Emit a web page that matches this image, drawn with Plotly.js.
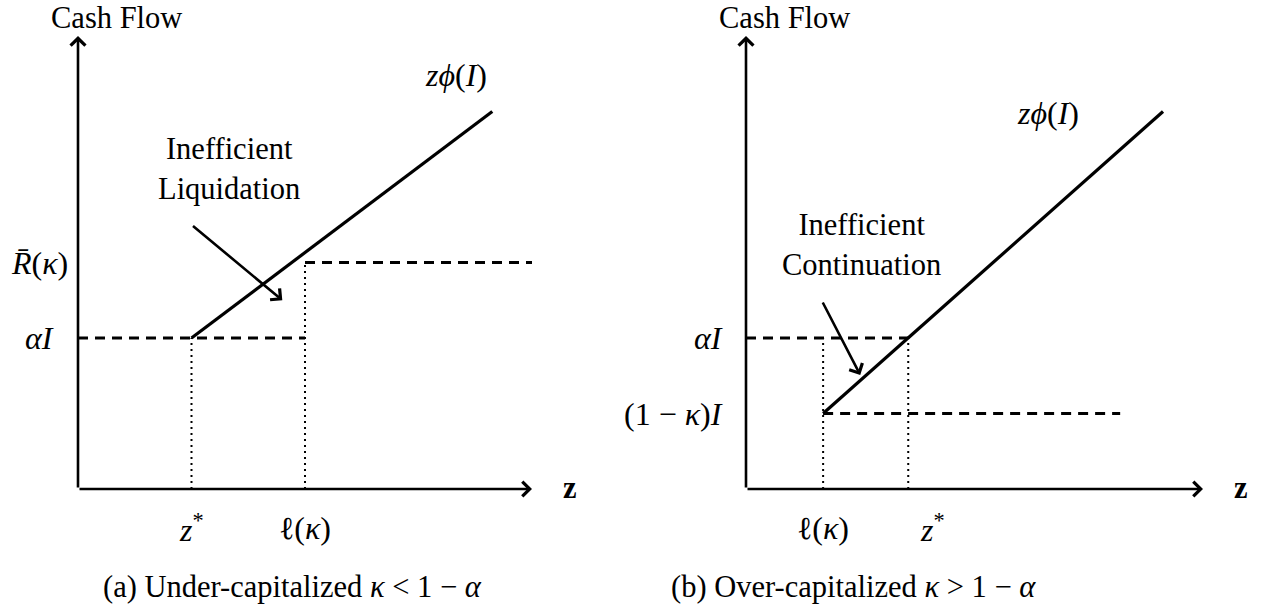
<!DOCTYPE html>
<html>
<head>
<meta charset="utf-8">
<script src="https://cdn.plot.ly/plotly-3.0.1.min.js"></script>
<style>
  html, body { margin: 0; padding: 0; background: #ffffff; }
  #chart { width: 1262px; height: 609px; }
</style>
</head>
<body>
<div id="chart"></div>
<script>
// ---- Panel (a): under-capitalized bank ----
const aPayoffZ = [2, 7.3];          // zφ(I) segment, starting at z*
const aPayoffCF = [2, 5];
const aThresholds = [2, 4];         // z*, ℓ(κ)
const aThresholdLabels = ['<i>z</i><sup>*</sup>', 'ℓ(<i>κ</i>)'];
const aLevels = [2, 3];             // αI, R̄(κ)
const aLevelLabels = ['<i>αI</i>', '<i>R̄</i>(<i>κ</i>)'];
const aLevelEnds = [4, 8];          // where each dashed level stops / ends

// ---- Panel (b): over-capitalized bank ----
const bPayoffZ = [1.35, 7.3];       // zφ(I) segment, starting at ℓ(κ)
const bPayoffCF = [1, 5];
const bThresholds = [1.35, 2.84];   // ℓ(κ), z*
const bThresholdLabels = ['ℓ(<i>κ</i>)', '<i>z</i><sup>*</sup>'];
const bLevels = [2, 1];             // αI, (1−κ)I
const bLevelLabels = ['<i>αI</i>', '(1 − <i>κ</i>)<i>I</i>'];
const bLevelEnds = [2.84, 6.55];

const captions = ['(a) Under-capitalized <i>κ</i> &lt; 1 − <i>α</i>',
                  '(b) Over-capitalized <i>κ</i> &gt; 1 − <i>α</i>'];
const notes = ['Inefficient<br>Liquidation', 'Inefficient<br>Continuation'];

const X_MAX = 8, Y_MAX = 6;
const FONT = 'Liberation Serif, Times New Roman, serif';
const solid = {color: '#000', width: 3.2};
const dashed = {color: '#000', width: 2.8, dash: '10px,7px'};
const dotted = {color: '#000', width: 2, dash: '2px,4px'};

function seg(xa, ya, x, y, line) {
  return {x: x, y: y, xaxis: xa, yaxis: ya, mode: 'lines', line: line,
          hoverinfo: 'skip', cliponaxis: false, showlegend: false};
}

const traces = [
  // panel (a)
  seg('x', 'y', aPayoffZ, aPayoffCF, solid),
  seg('x', 'y', [0, aLevelEnds[0]], [aLevels[0], aLevels[0]], dashed),
  seg('x', 'y', [aThresholds[1], aLevelEnds[1]], [aLevels[1], aLevels[1]], dashed),
  seg('x', 'y', [aThresholds[0], aThresholds[0]], [0, aLevels[0]], dotted),
  seg('x', 'y', [aThresholds[1], aThresholds[1]], [0, aLevels[1]], dotted),
  // panel (b)
  seg('x2', 'y2', bPayoffZ, bPayoffCF, solid),
  seg('x2', 'y2', [0, bLevelEnds[0]], [bLevels[0], bLevels[0]], dashed),
  seg('x2', 'y2', [bThresholds[0], bLevelEnds[1]], [bLevels[1], bLevels[1]], dashed),
  seg('x2', 'y2', [bThresholds[0], bThresholds[0]], [0, bLevels[0]], dotted),
  seg('x2', 'y2', [bThresholds[1], bThresholds[1]], [0, bLevels[0]], dotted)
];

const txtFont = {family: FONT, size: 30.5, color: '#000'};
const mathFont = {family: FONT, size: 32, color: '#000'};

function label(xr, yr, x, y, text, extra) {
  return Object.assign({xref: xr, yref: yr, x: x, y: y, text: text, showarrow: false,
                        font: txtFont, xanchor: 'center', yanchor: 'middle'}, extra || {});
}
function arrow(xr, yr, x0, y0, x1, y1, w) {
  return {xref: xr, yref: yr, axref: xr, ayref: yr, x: x1, y: y1, ax: x0, ay: y0,
          text: '', showarrow: true, arrowhead: 4, arrowsize: 1.1,
          arrowwidth: w, arrowcolor: '#000', standoff: 0};
}

const annotations = [];
[['x', 'y'], ['x2', 'y2']].forEach(function (ref) {
  const xr = ref[0], yr = ref[1];
  // axes with arrow tips
  annotations.push(arrow(xr, yr, 0, 0, X_MAX, 0, 2.6));
  annotations.push(arrow(xr, yr, 0, 0, 0, Y_MAX, 2.6));
  annotations.push(label(xr, yr, 0, Y_MAX, 'Cash Flow',
                         {xshift: 38, yanchor: 'top', yshift: 36, borderpad: 0}));
  annotations.push(label(xr, yr, X_MAX, 0, '<b>z</b>', {xshift: 38, yshift: 1}));
});

// panel (a) labels
aLevels.forEach(function (v, k) {
  annotations.push(label('x', 'y', 0, v, aLevelLabels[k], {xshift: -39, font: mathFont}));
});
aThresholds.forEach(function (v, k) {
  annotations.push(label('x', 'y', v, 0, aThresholdLabels[k], {yshift: -39, font: mathFont}));
});
annotations.push(label('x', 'y', 6.66, 5.48, '<i>zϕ</i>(<i>I</i>)', {font: mathFont}));
annotations.push(label('x', 'y', 2.66, 4.245, notes[0], {align: 'center'}));
annotations.push(arrow('x', 'y', 2.0, 3.5, 3.6, 2.5, 2.6));

// panel (b) labels
bLevels.forEach(function (v, k) {
  annotations.push(label('x2', 'y2', 0, v, bLevelLabels[k],
                         {xanchor: 'right', xshift: -21, font: mathFont}));
});
bThresholds.forEach(function (v, k) {
  annotations.push(label('x2', 'y2', v, 0, bThresholdLabels[k],
                         {yshift: -39, xshift: k === 1 ? 24 : 0, font: mathFont}));
});
annotations.push(label('x2', 'y2', 5.29, 4.98, '<i>zϕ</i>(<i>I</i>)', {font: mathFont}));
annotations.push(label('x2', 'y2', 2.03, 3.23, notes[1], {align: 'center'}));
annotations.push(arrow('x2', 'y2', 1.33, 2.49, 2.0, 1.51, 2.6));

// sub-captions
annotations.push(label('paper', 'paper', 0.2314, 0.0361, captions[0]));
annotations.push(label('paper', 'paper', 0.6767, 0.0361, captions[1]));

const hidden = {visible: false, showgrid: false, zeroline: false, fixedrange: true};
const yDomain = [1 - 489 / 609, 1 - 36 / 609];

const layout = {
  width: 1262, height: 609,
  margin: {l: 0, r: 0, t: 0, b: 0},
  paper_bgcolor: '#ffffff', plot_bgcolor: '#ffffff',
  showlegend: false,
  font: txtFont,
  xaxis: Object.assign({domain: [78 / 1262, 532 / 1262], range: [0, X_MAX]}, hidden),
  yaxis: Object.assign({domain: yDomain, range: [0, Y_MAX]}, hidden),
  xaxis2: Object.assign({domain: [746 / 1262, 1203 / 1262], range: [0, X_MAX], anchor: 'y2'}, hidden),
  yaxis2: Object.assign({domain: yDomain, range: [0, Y_MAX], anchor: 'x2'}, hidden),
  annotations: annotations
};

Plotly.newPlot('chart', traces, layout, {displayModeBar: false, staticPlot: true});
</script>
</body>
</html>
